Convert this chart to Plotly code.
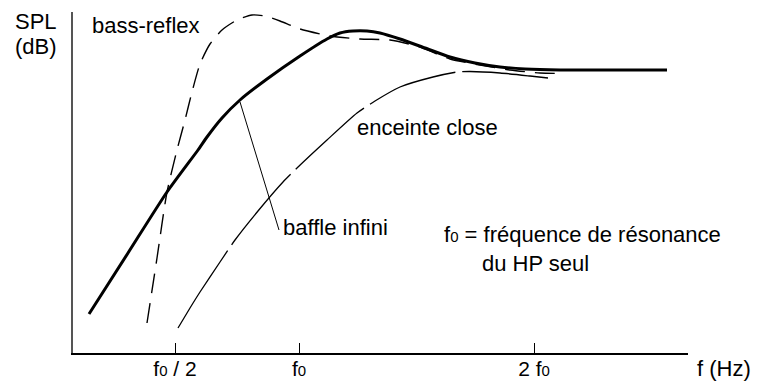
import plotly.graph_objects as go

# x: frequency axis position (arbitrary linear units), y: SPL (arbitrary units)
baffle_x = [16, 55, 94, 125, 134, 149, 167, 194, 227, 254, 267, 280, 294, 307, 327, 352, 377, 402, 427, 452, 487, 594]
baffle_y = [39, 100, 161, 203, 216, 235, 253, 274, 297, 314, 320, 322, 322, 320, 314, 305, 296, 290, 286, 284, 283, 283]

bass_x = [74, 84, 94, 104, 112, 119, 127, 137, 149, 164, 179, 192, 207, 227, 257, 287, 317, 347, 377, 407, 437, 467, 489]
bass_y = [30, 95, 161, 203, 233, 261, 289, 309, 323, 333, 338, 337, 332, 324, 317, 314, 313, 306, 294, 288, 283, 280, 279.5]

close_x = [105, 117, 127, 147, 162, 185, 210, 224, 254, 284, 302, 327, 360, 384, 397, 427, 457, 475]
close_y = [25, 45, 61, 91, 113, 142, 171, 185, 213, 240, 252, 266, 276, 281, 281.5, 280, 277, 275]

tick_vals = [102, 226, 461]
SUB0 = "<span style='font-size:15px'>0</span>"
tick_text = ["f" + SUB0 + " / 2", "f" + SUB0, "2 f" + SUB0]

FONT = "Liberation Sans, Arial, sans-serif"
FS = 22

fig = go.Figure()
fig.add_trace(go.Scatter(x=bass_x, y=bass_y, mode="lines",
                         line=dict(color="black", width=1.4, dash="20px,10px", shape="spline", smoothing=0.6),
                         hoverinfo="skip"))
fig.add_trace(go.Scatter(x=close_x, y=close_y, mode="lines",
                         line=dict(color="black", width=1.3, dash="92px,7px", shape="spline", smoothing=0.6),
                         hoverinfo="skip"))
fig.add_trace(go.Scatter(x=baffle_x, y=baffle_y, mode="lines",
                         line=dict(color="black", width=3, shape="spline", smoothing=0.6),
                         hoverinfo="skip"))

# pointer line from label to baffle curve
fig.add_shape(type="line", x0=167, y0=251, x1=206, y1=123,
              line=dict(color="black", width=1))

ann = dict(showarrow=False, font=dict(family=FONT, size=FS, color="black"),
           xanchor="left", yanchor="middle")
fig.add_annotation(x=17, y=328, text="bass-reflex", **ann)
fig.add_annotation(x=282, y=226, text="enceinte close", **ann)
fig.add_annotation(x=208, y=126, text="baffle infini", **ann)
fig.add_annotation(x=369, y=119, text="f" + SUB0 + " = fréquence de résonance", **ann)
fig.add_annotation(x=407, y=90, text="du HP seul", **ann)

# axis titles (outside plot area)
fig.add_annotation(xref="paper", yref="paper", x=-0.0976, y=0.971, text="SPL", **ann)
fig.add_annotation(xref="paper", yref="paper", x=-0.0976, y=0.900, text="(dB)", **ann)
fig.add_annotation(xref="paper", yref="paper", x=1.0114, y=-0.045, text="f (Hz)", **ann)

fig.update_layout(
    width=757, height=383,
    margin=dict(l=73, r=69, t=12, b=30, autoexpand=False),
    paper_bgcolor="white", plot_bgcolor="white",
    showlegend=False,
    font=dict(family=FONT, size=FS, color="black"),
)
fig.update_xaxes(range=[0, 615], showgrid=False, zeroline=False, automargin=False,
                 showline=True, linecolor="black", linewidth=1.5,
                 ticks="inside", ticklen=10, tickwidth=1, tickcolor="black",
                 tickvals=tick_vals, ticktext=tick_text, ticklabelstandoff=-4,
                 tickfont=dict(family=FONT, size=21, color="black"))
fig.update_yaxes(range=[0, 341], showgrid=False, zeroline=False, automargin=False,
                 showline=True, linecolor="#555", linewidth=1.5,
                 showticklabels=False, ticks="")

fig.write_html("out.html", config={"displayModeBar": False},
               post_script="document.body.style.margin='0';")
